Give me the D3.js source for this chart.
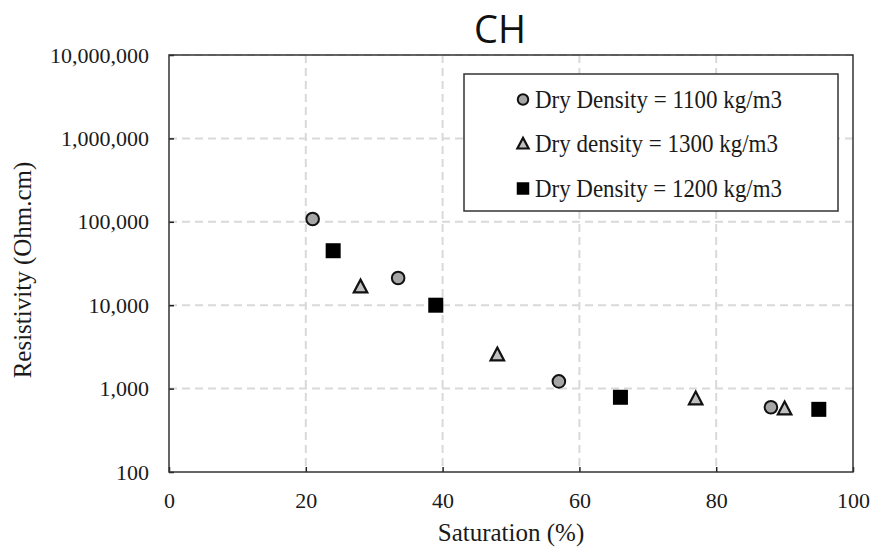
<!DOCTYPE html>
<html>
<head>
<meta charset="utf-8">
<script src="https://cdn.jsdelivr.net/npm/d3@7"></script>
<style>
  html, body { margin: 0; padding: 0; background: #fff; }
  svg { display: block; }
</style>
</head>
<body>
<div id="chart"></div>
<script>
// Resistivity vs saturation for CH clay at three dry densities
const series = ["Dry Density = 1100 kg/m3", "Dry density = 1300 kg/m3", "Dry Density = 1200 kg/m3"];
const symbols = ["circle", "triangle", "square"];

const sat1100 = [21, 33.5, 57, 88];
const res1100 = [108000, 21200, 1220, 597];

const sat1300 = [28, 48, 77, 90];
const res1300 = [16500, 2530, 750, 569];

const sat1200 = [24, 39, 66, 95];
const res1200 = [45000, 10000, 787, 564];

const xTicks = [0, 20, 40, 60, 80, 100];
const yTicks = [100, 1000, 10000, 100000, 1000000, 10000000];

const W = 875, H = 547;
const margin = { left: 169, right: 22, top: 55, bottom: 75 };
const plotW = W - margin.left - margin.right;
const plotH = H - margin.top - margin.bottom;

const svg = d3.select("#chart").append("svg").attr("width", W).attr("height", H);
const g = svg.append("g").attr("transform", `translate(${margin.left},${margin.top})`);

const x = d3.scaleLinear().domain([0, 100]).range([0, plotW]);
const y = d3.scaleLog().domain([100, 10000000]).range([plotH, 0]);

const serif = "'Liberation Serif', 'Times New Roman', serif";
const fmt = d3.format(",");

// dashed grid
g.append("g").selectAll("line").data(xTicks.slice(1, -1)).join("line")
  .attr("x1", d => x(d)).attr("x2", d => x(d)).attr("y1", 0).attr("y2", plotH)
  .attr("stroke", "#d9d9d9").attr("stroke-width", 2).attr("stroke-dasharray", "8,5");
g.append("g").selectAll("line").data(yTicks.slice(1)).join("line")
  .attr("x1", 0).attr("x2", plotW).attr("y1", d => y(d)).attr("y2", d => y(d))
  .attr("stroke", "#d9d9d9").attr("stroke-width", 2).attr("stroke-dasharray", "8,5");

// axes with inside ticks
const xAxis = g.append("g").attr("transform", `translate(0,${plotH})`)
  .call(d3.axisBottom(x).tickValues(xTicks).tickSize(-5).tickPadding(20).tickFormat(d3.format("d")));
const yAxis = g.append("g")
  .call(d3.axisLeft(y).tickValues(yTicks).tickSize(-5).tickPadding(20).tickFormat(fmt));
[xAxis, yAxis].forEach(a => {
  a.select(".domain").remove();
  a.selectAll(".tick line").attr("stroke", "#222").attr("stroke-width", 1.5);
  a.selectAll("text").attr("font-family", serif).attr("font-size", 22).attr("fill", "#1a1a1a");
});

// frame
g.append("rect").attr("x", 0).attr("y", 0).attr("width", plotW).attr("height", plotH)
  .attr("fill", "none").attr("stroke", "#333").attr("stroke-width", 1.5);

// markers
function drawMarker(sel, type, size) {
  if (type === "circle") {
    sel.append("circle").attr("r", size * 0.42)
      .attr("fill", "#a6a6a6").attr("stroke", "#111").attr("stroke-width", 2);
  } else if (type === "square") {
    sel.append("rect").attr("x", -size / 2).attr("y", -size / 2)
      .attr("width", size).attr("height", size).attr("fill", "#000");
  } else {
    const s = size * 0.9;
    sel.append("path")
      .attr("d", `M0,${-s * 0.55}L${s / 2},${s * 0.4}L${-s / 2},${s * 0.4}Z`)
      .attr("fill", "#bfbfbf").attr("stroke", "#111").attr("stroke-width", 2.2)
      .attr("stroke-linejoin", "miter");
  }
}

const data = [
  { sat: sat1100, res: res1100, sym: symbols[0] },
  { sat: sat1300, res: res1300, sym: symbols[1] },
  { sat: sat1200, res: res1200, sym: symbols[2] }
];
data.forEach(s => {
  s.sat.forEach((v, i) => {
    const m = g.append("g").attr("transform", `translate(${x(v)},${y(s.res[i])})`);
    drawMarker(m, s.sym, 15);
  });
});

// legend
const legendWidths = [247, 243, 247];
const lg = svg.append("g").attr("transform", "translate(464,74)");
lg.append("rect").attr("width", 374).attr("height", 137)
  .attr("fill", "#fff").attr("stroke", "#333").attr("stroke-width", 1.5);
series.forEach((name, i) => {
  const row = lg.append("g").attr("transform", `translate(0,${33.5 + i * 44.5})`);
  const m = row.append("g").attr("transform", "translate(59,-8)");
  drawMarker(m, symbols[i], 12.5);
  row.append("text").attr("x", 71).attr("y", 0)
    .attr("font-family", serif).attr("font-size", 25.5).attr("fill", "#1a1a1a")
    .attr("textLength", legendWidths[i]).attr("lengthAdjust", "spacingAndGlyphs")
    .text(name);
});

// titles
svg.append("text").attr("x", 500).attr("y", 43).attr("text-anchor", "middle")
  .attr("font-family", "'Open Sans', 'Noto Sans', sans-serif").attr("font-size", 38).attr("fill", "#111")
  .text("CH");
svg.append("text").attr("x", 511).attr("y", 541).attr("text-anchor", "middle")
  .attr("font-family", serif).attr("font-size", 25).attr("fill", "#1a1a1a")
  .text("Saturation (%)");
svg.append("text").attr("transform", "translate(31,270) rotate(-90)").attr("text-anchor", "middle")
  .attr("font-family", serif).attr("font-size", 25).attr("fill", "#1a1a1a")
  .text("Resistivity (Ohm.cm)");
</script>
</body>
</html>
